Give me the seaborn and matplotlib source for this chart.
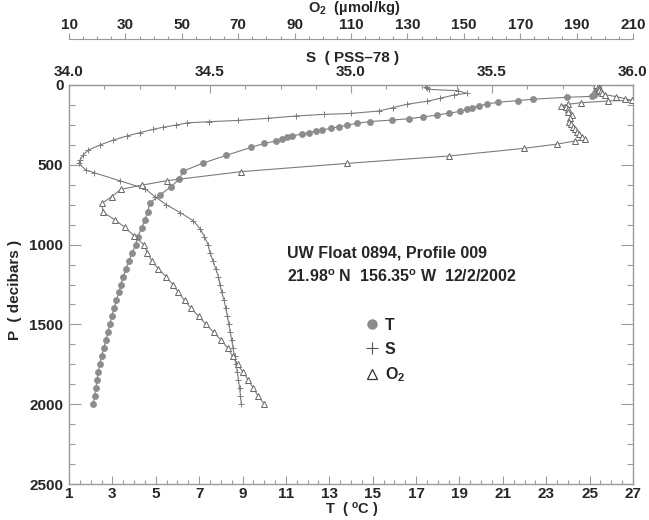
import matplotlib
matplotlib.use("Agg")
import matplotlib.pyplot as plt
import seaborn as sns
from matplotlib.ticker import MultipleLocator
from matplotlib.lines import Line2D

# ---------------- data ----------------
P_T = [0, 8, 16, 24, 32, 40, 48, 56, 64, 71, 77, 89, 98, 108, 119, 131, 142, 152,
       165, 177, 188, 201, 211, 220, 229, 240, 251, 261, 272, 282, 290, 298, 307,
       318, 328, 341, 351, 366, 391, 441, 490, 540, 590, 640, 690, 740, 795, 846,
       897, 950, 1000, 1050, 1100, 1150, 1200, 1250, 1300, 1350, 1400, 1450, 1500,
       1550, 1600, 1650, 1700, 1750, 1800, 1850, 1900, 1950, 2000]
T = [25.40, 25.38, 25.36, 25.34, 25.32, 25.30, 25.27, 25.24, 25.20, 25.12, 23.98,
     22.37, 21.68, 20.77, 20.26, 19.88, 19.57, 19.34, 19.04, 18.50, 17.96, 17.31,
     16.66, 15.87, 14.86, 14.29, 13.83, 13.45, 13.07, 12.65, 12.38, 12.07, 11.76,
     11.30, 11.07, 10.84, 10.54, 10.00, 9.39, 8.24, 7.17, 6.25, 6.08, 5.68, 5.18,
     4.72, 4.63, 4.49, 4.35, 4.17, 4.07, 3.92, 3.77, 3.63, 3.50, 3.40, 3.30, 3.18,
     3.07, 2.97, 2.88, 2.79, 2.70, 2.60, 2.50, 2.42, 2.35, 2.29, 2.24, 2.18, 2.12]

P_S = [0, 10, 20, 27, 36, 52, 63, 83, 102, 120, 141, 163, 178, 184, 194, 209, 222,
       230, 237, 251, 265, 278, 299, 320, 345, 376, 408, 439, 470, 491, 533, 550,
       600, 650, 700, 750, 800, 850, 900, 950, 1000, 1050, 1100, 1150, 1200, 1250,
       1300, 1350, 1400, 1450, 1500, 1550, 1600, 1650, 1700, 1750, 1800, 1850, 1900,
       1950, 2000]
S = [35.265, 35.265, 35.268, 35.275, 35.38, 35.41, 35.364, 35.317, 35.27, 35.20,
     35.15, 35.10, 35.00, 34.905, 34.805, 34.704, 34.598, 34.498, 34.42, 34.38,
     34.333, 34.298, 34.25, 34.204, 34.157, 34.11, 34.068, 34.05, 34.039, 34.035,
     34.06, 34.09, 34.18, 34.27, 34.305, 34.345, 34.395, 34.44, 34.465, 34.48,
     34.493, 34.50, 34.51, 34.52, 34.53, 34.535, 34.542, 34.55, 34.556, 34.562,
     34.567, 34.572, 34.577, 34.582, 34.587, 34.592, 34.597, 34.601, 34.605,
     34.608, 34.611]

P_O2 = [0, 10, 20, 30, 40, 50, 60, 73, 85, 96, 100, 111, 120, 131, 136, 150, 167,
        188, 209, 230, 245, 261, 277, 293, 309, 324, 340, 351, 370, 397, 445, 491,
        543, 599, 627, 654, 700, 742, 797, 845, 892, 947, 1000, 1050, 1100, 1150,
        1200, 1250, 1300, 1350, 1400, 1450, 1500, 1550, 1600, 1650, 1700, 1750,
        1800, 1850, 1900, 1950, 2000]
O2 = [197.0, 197.5, 198.0, 198.0, 198.5, 199.0, 200.0, 204.1, 207.1, 209.5, 201.2,
      191.7, 187.0, 184.5, 186.4, 186.8, 187.0, 188.2, 187.6, 187.2, 188.0, 188.8,
      189.4, 190.0, 190.9, 191.8, 193.0, 189.4, 183.2, 171.3, 144.6, 108.7, 71.0,
      44.9, 36.0, 28.4, 25.1, 21.6, 22.1, 26.3, 29.8, 33.2, 36.5, 37.8, 39.3, 41.6,
      44.4, 46.8, 48.8, 51.0, 53.4, 56.0, 58.6, 61.3, 64.0, 66.4, 68.0, 69.8, 71.7,
      73.6, 75.4, 77.1, 79.3]

T_TICKS = [1, 3, 5, 7, 9, 11, 13, 15, 17, 19, 21, 23, 25, 27]
S_TICKS = [34.0, 34.5, 35.0, 35.5, 36.0]
S_TICKLABELS = ["34.0", "34.5", "35.0", "35.5", "36.0"]
O2_TICKS = [10, 30, 50, 70, 90, 110, 130, 150, 170, 190, 210]
P_TICKS = [0, 500, 1000, 1500, 2000, 2500]

# ---------------- style ----------------
sns.set_style("white")
plt.rcParams["font.family"] = ["Liberation Sans", "DejaVu Sans"]
plt.rcParams["font.weight"] = "bold"
plt.rcParams["mathtext.fontset"] = "custom"
plt.rcParams["mathtext.rm"] = "Liberation Sans:bold"
plt.rcParams["mathtext.bf"] = "Liberation Sans:bold"
plt.rcParams["mathtext.it"] = "Liberation Sans:bold"
plt.rcParams["mathtext.default"] = "bf"

W, H = 649, 520
fig = plt.figure(figsize=(W / 100, H / 100), dpi=100)
L, R, TOP, BOT = 69, 633, 85, 484
ax = fig.add_axes([L / W, 1 - BOT / H, (R - L) / W, (BOT - TOP) / H])
ax_s = ax.twiny()
ax_o = ax.twiny()

LINE = "#7c7c7c"
MARK = "#8c8c8c"
SPINE = "#9a9a9a"
FS = 11

sns.lineplot(x=T, y=P_T, sort=False, estimator=None, ax=ax, color=LINE, lw=0.8,
             marker="o", markersize=4.4, markerfacecolor=MARK, markeredgecolor=MARK,
             markeredgewidth=0.5)
sns.lineplot(x=S, y=P_S, sort=False, estimator=None, ax=ax_s, color=LINE, lw=0.8,
             marker="+", markersize=5, markeredgecolor=LINE, markeredgewidth=0.7)
sns.lineplot(x=O2, y=P_O2, sort=False, estimator=None, ax=ax_o, color=LINE, lw=0.8,
             marker="^", markersize=4.5, markerfacecolor="white",
             markeredgecolor="#666666", markeredgewidth=0.7)

# ---------------- axes ----------------
ax.set_xlim(1, 27)
ax.set_ylim(2500, 0)
ax_s.set_xlim(34, 36)
ax_o.set_xlim(10, 210)
for a in (ax, ax_s, ax_o):
    a.set_xlabel("")
    a.set_ylabel("")

ax.set_xticks(T_TICKS)
ax.xaxis.set_minor_locator(MultipleLocator(0.5))
ax.set_yticks(P_TICKS)
ax.yaxis.set_minor_locator(MultipleLocator(125))
ax.tick_params(axis="x", which="major", direction="in", length=5.8, width=0.8,
               color=SPINE, top=False, bottom=True, labelsize=FS, pad=2.5)
ax.tick_params(axis="x", which="minor", direction="in", length=2.9, width=0.8,
               color=SPINE, top=False, bottom=True)
ax.tick_params(axis="y", which="major", direction="in", length=8.6, width=0.8,
               color=SPINE, left=True, right=True, labelsize=FS, pad=4)
ax.tick_params(axis="y", which="minor", direction="in", length=4.3, width=0.8,
               color=SPINE, left=True, right=True)
for sp in ax.spines.values():
    sp.set_color(SPINE)
    sp.set_linewidth(1.0)

ax_s.set_xticks(S_TICKS)
ax_s.set_xticklabels(S_TICKLABELS)
ax_s.xaxis.set_minor_locator(MultipleLocator(0.125))
ax_s.tick_params(axis="x", which="major", direction="in", length=5.8, width=0.8,
                 color=SPINE, labelsize=FS, pad=4)
ax_s.tick_params(axis="x", which="minor", direction="in", length=2.9, width=0.8,
                 color=SPINE)
for k, sp in ax_s.spines.items():
    sp.set_visible(k == "top")
    sp.set_color(SPINE)

ax_o.set_xticks(O2_TICKS)
ax_o.xaxis.set_minor_locator(MultipleLocator(5))
ax_o.spines["top"].set_position(("outward", (TOP - 39) * 0.72))
ax_o.tick_params(axis="x", which="major", direction="out", length=4, width=0.8,
                 color=SPINE, labelsize=FS, pad=1)
ax_o.tick_params(axis="x", which="minor", direction="out", length=2.5, width=0.8,
                 color=SPINE)
for k, sp in ax_o.spines.items():
    sp.set_visible(k == "top")
    sp.set_color(SPINE)
for a in (ax_s, ax_o):
    a.tick_params(axis="y", left=False, right=False, labelleft=False, labelright=False)

# ---------------- titles ----------------
def ftext(x, y, s, fs=FS, **kw):
    fig.text(x / W, 1 - y / H, s, fontsize=fs, fontweight="bold", **kw)

ftext(352, 520, r"T  ( $^{\mathregular{o}}$C )", fs=10.5, ha="center", va="bottom")
ftext(15, 290, "P  ( decibars )", ha="center", va="center", rotation=90)
ftext(353, 58, "S  ( PSS\u201378 )", ha="center", va="center")
ftext(354, 8, "O$_2$  (\u00b5mol/kg)", fs=10.5, ha="center", va="center")

ftext(287, 253, "UW Float 0894, Profile 009", fs=11.5, ha="left", va="center")
ftext(287, 277, "21.98$^{\\mathregular{o}}$ N  156.35$^{\\mathregular{o}}$ W  12/2/2002",
      fs=11.5, ha="left", va="center")

handles = [
    Line2D([], [], ls="none", marker="o", markersize=6.5, markerfacecolor=MARK,
           markeredgecolor=MARK),
    Line2D([], [], ls="none", marker="+", markersize=8, markeredgecolor="#555555",
           markeredgewidth=0.8),
    Line2D([], [], ls="none", marker="^", markersize=7, markerfacecolor="white",
           markeredgecolor="#333333", markeredgewidth=0.9),
]
fig.legend(handles, ["T", "S", "O$_2$"], loc="upper left",
           bbox_to_anchor=(364 / W, 1 - 318 / H), frameon=False, fontsize=11.5,
           handlelength=1.0, handletextpad=0.3, labelspacing=0.55, borderpad=0,
           borderaxespad=0)

fig.savefig("out.png", dpi=100)
